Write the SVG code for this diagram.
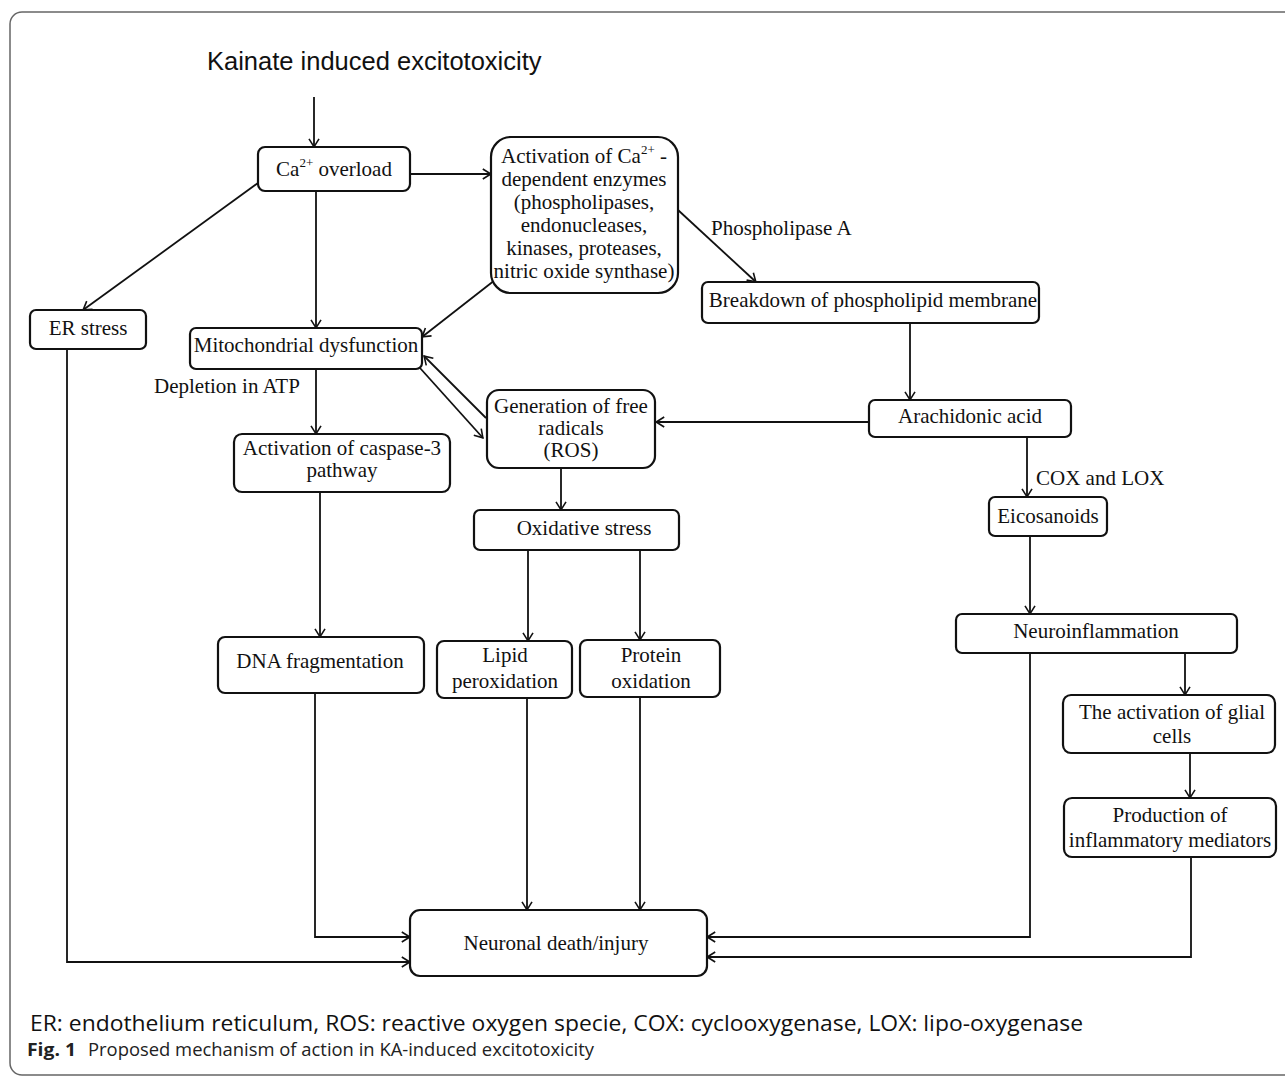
<svg xmlns="http://www.w3.org/2000/svg" width="1285" height="1077" viewBox="0 0 1285 1077">
<style>
.node rect{fill:#fff;stroke:#111;stroke-width:2.2}
.node text,.lbl{font-family:"Liberation Serif","Times New Roman",serif;font-size:21px;fill:#111;text-anchor:middle}
.lbl{text-anchor:start}
.sup{font-size:13px}
#connectors path{fill:none;stroke:#111;stroke-width:1.8;marker-end:url(#arr)}
</style>
<defs>
<marker id="arr" markerUnits="userSpaceOnUse" viewBox="0 0 10 12" markerWidth="10" markerHeight="12" refX="9.2" refY="6" orient="auto">
<path d="M1,1 L9,6 L1,11" fill="none" stroke="#111" stroke-width="1.6"/>
</marker>
</defs>
<rect x="10" y="12" width="1290" height="1063" rx="12" fill="#fff" stroke="#666" stroke-width="1.5"/>
<text x="207" y="70" font-family="Liberation Sans, Arial, sans-serif" font-size="25.5" fill="#111">Kainate induced excitotoxicity</text>

<g id="connectors">
<path d="M314,97 V147"/>
<path d="M410,174 H491"/>
<path d="M258,183 L83,310"/>
<path d="M316,191 V328"/>
<path d="M495,280 L422,337"/>
<path d="M678,210 L756,282"/>
<path d="M420,368 L483,438"/>
<path d="M486,418 L424,356"/>
<path d="M316,369 V434"/>
<path d="M910,323 V400"/>
<path d="M869,422 H656"/>
<path d="M1027,437 V497"/>
<path d="M561,468 V510"/>
<path d="M320,492 V637"/>
<path d="M528,550 V641"/>
<path d="M640,550 V640"/>
<path d="M1030,536 V614"/>
<path d="M1185,653 V695"/>
<path d="M1190,753 V798"/>
<path d="M315,693 V937 H410"/>
<path d="M67,349 V962 H410"/>
<path d="M527,698 V910"/>
<path d="M640,697 V910"/>
<path d="M1030,653 V937 H707"/>
<path d="M1191,857 V957 H707"/>
</g>

<text class="lbl" x="711" y="235">Phospholipase A</text>
<text class="lbl" x="154" y="393">Depletion in ATP</text>
<text class="lbl" x="1036" y="485">COX and LOX</text>

<g id="ca" class="node"><rect x="258" y="147" width="152" height="44" rx="7"/>
<text x="334" y="176">Ca<tspan class="sup" dy="-9">2+</tspan><tspan dy="9"> overload</tspan></text></g>

<g id="enzymes" class="node"><rect x="491" y="137" width="187" height="156" rx="20"/>
<text x="584" y="163">Activation of Ca<tspan class="sup" dy="-9">2+</tspan><tspan dy="9"> -</tspan></text>
<text x="584" y="186">dependent enzymes</text>
<text x="584" y="209">(phospholipases,</text>
<text x="584" y="232">endonucleases,</text>
<text x="584" y="255">kinases, proteases,</text>
<text x="584" y="278">nitric oxide synthase)</text></g>

<g id="er" class="node"><rect x="30" y="310" width="116" height="39" rx="6"/>
<text x="88" y="335">ER stress</text></g>

<g id="mito" class="node"><rect x="190" y="328" width="232" height="41" rx="6"/>
<text x="306" y="352">Mitochondrial dysfunction</text></g>

<g id="breakdown" class="node"><rect x="702" y="282" width="337" height="41" rx="6"/>
<text x="873" y="307">Breakdown of phospholipid membrane</text></g>

<g id="arach" class="node"><rect x="869" y="400" width="202" height="37" rx="6"/>
<text x="970" y="423">Arachidonic acid</text></g>

<g id="ros" class="node"><rect x="487" y="390" width="168" height="78" rx="12"/>
<text x="571" y="413">Generation of free</text>
<text x="571" y="435">radicals</text>
<text x="571" y="457">(ROS)</text></g>

<g id="caspase" class="node"><rect x="234" y="434" width="216" height="58" rx="8"/>
<text x="342" y="455">Activation of caspase-3</text>
<text x="342" y="477">pathway</text></g>

<g id="oxidative" class="node"><rect x="474" y="510" width="205" height="40" rx="6"/>
<text x="584" y="535">Oxidative stress</text></g>

<g id="eicos" class="node"><rect x="989" y="497" width="118" height="39" rx="6"/>
<text x="1048" y="523">Eicosanoids</text></g>

<g id="dna" class="node"><rect x="218" y="637" width="206" height="56" rx="7"/>
<text x="320" y="668">DNA fragmentation</text></g>

<g id="lipid" class="node"><rect x="437" y="641" width="135" height="57" rx="7"/>
<text x="505" y="662">Lipid</text>
<text x="505" y="688">peroxidation</text></g>

<g id="protein" class="node"><rect x="580" y="640" width="140" height="57" rx="7"/>
<text x="651" y="662">Protein</text>
<text x="651" y="688">oxidation</text></g>

<g id="neuroinfl" class="node"><rect x="956" y="614" width="281" height="39" rx="6"/>
<text x="1096" y="638">Neuroinflammation</text></g>

<g id="glial" class="node"><rect x="1063" y="695" width="212" height="58" rx="8"/>
<text x="1172" y="719">The activation of glial</text>
<text x="1172" y="743">cells</text></g>

<g id="production" class="node"><rect x="1064" y="798" width="212" height="59" rx="8"/>
<text x="1170" y="822">Production of</text>
<text x="1170" y="847">inflammatory mediators</text></g>

<g id="neuronal" class="node"><rect x="410" y="910" width="297" height="66" rx="10"/>
<text x="556" y="950">Neuronal death/injury</text></g>

<text x="30" y="1031" font-family="Open Sans, Liberation Sans, sans-serif" font-size="22.5" fill="#111" textLength="1053" lengthAdjust="spacingAndGlyphs">ER: endothelium reticulum, ROS: reactive oxygen specie, COX: cyclooxygenase, LOX: lipo-oxygenase</text>
<text x="27" y="1056" font-family="Open Sans, Liberation Sans, sans-serif" font-size="18" fill="#222"><tspan font-weight="bold" textLength="49" lengthAdjust="spacingAndGlyphs">Fig. 1</tspan><tspan x="88" textLength="506" lengthAdjust="spacingAndGlyphs">Proposed mechanism of action in KA-induced excitotoxicity</tspan></text>
</svg>
